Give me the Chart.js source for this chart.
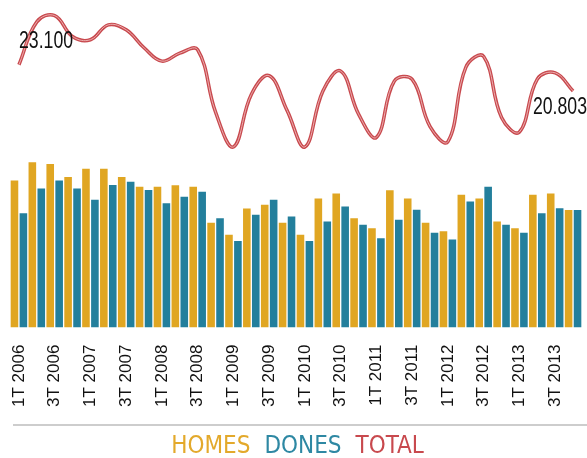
<!DOCTYPE html>
<html>
<head>
<meta charset="utf-8">
<script src="https://cdn.jsdelivr.net/npm/chart.js@4.4.0/dist/chart.umd.min.js"></script>
<style>
  body { margin: 0; background: #fff; }
  canvas { display: block; }
</style>
</head>
<body>
<canvas id="atur-chart" width="587" height="458"></canvas>
<script>
const trimestres = [
  '1T 2006', '2T 2006', '3T 2006', '4T 2006',
  '1T 2007', '2T 2007', '3T 2007', '4T 2007',
  '1T 2008', '2T 2008', '3T 2008', '4T 2008',
  '1T 2009', '2T 2009', '3T 2009', '4T 2009',
  '1T 2010', '2T 2010', '3T 2010', '4T 2010',
  '1T 2011', '2T 2011', '3T 2011', '4T 2011',
  '1T 2012', '2T 2012', '3T 2012', '4T 2012',
  '1T 2013', '2T 2013', '3T 2013', '4T 2013',
];

const homes = [
  12980, 14590, 14440, 13300, 14010, 14010, 13300, 12430,
  12430, 12570, 12430, 9270, 8220, 10520, 10850, 9270,
  8220, 11400, 11840, 9670, 8800, 12130, 11400, 9270,
  8530, 11730, 11400, 9380, 8800, 11730, 11840, 10400,
];

const dones = [
  10120, 12280, 12980, 12280, 11290, 12600, 12870, 12160,
  10990, 11550, 11990, 9670, 7660, 9970, 11290, 9820,
  7660, 9380, 10700, 9090, 7920, 9530, 10410, 8390,
  7810, 11140, 12430, 9090, 8390, 10110, 10550, 10403,
];

const total = [
  23100, 26870, 27420, 25580, 25300, 26610, 26170, 24590,
  23420, 24120, 24420, 18940, 15880, 20490, 22140, 19090,
  15880, 20780, 22540, 18760, 16720, 21660, 21810, 17660,
  16340, 22870, 23830, 18470, 17190, 21840, 22390, 20803,
];

const colors = {
  homes: '#e0a622',
  dones: '#237f9c',
  total: '#c8494e',
  homesText: '#e3a92b',
  donesText: '#2e88a3',
};

const fmt = (v) => v.toLocaleString('de-DE');

// narrow-looking number: regular sans squeezed horizontally
function narrowText(ctx, text, x, y, align) {
  const sx = 0.77;
  ctx.save();
  ctx.translate(x, y);
  ctx.scale(sx, 1);
  ctx.textAlign = align;
  ctx.fillText(text, 0, 0);
  ctx.restore();
}

// TOTAL line: thin light stroke over the red one, plus first/last values
Chart.register({
  id: 'total_extras',
  afterDatasetsDraw: (chart) => {
    const ctx = chart.ctx;
    const meta = chart.getDatasetMeta(2);
    if (!meta || !meta.dataset) return;

    ctx.save();
    ctx.beginPath();
    meta.dataset.path(ctx);
    ctx.strokeStyle = 'rgba(240, 185, 185, 0.9)';
    ctx.lineWidth = 1;
    ctx.lineJoin = 'round';
    ctx.stroke();
    ctx.restore();

    const pts = meta.data;
    const first = pts[0];
    const last = pts[pts.length - 1];
    ctx.save();
    ctx.fillStyle = '#111';
    ctx.font = '23px "Liberation Sans", Arial, sans-serif';
    ctx.textBaseline = 'alphabetic';
    narrowText(ctx, fmt(total[0]), first.x, first.y - 17, 'left');
    narrowText(ctx, fmt(total[total.length - 1]), last.x + 14, last.y + 23, 'right');
    ctx.restore();
  },
  afterDraw: (chart) => {
    // separator above the legend
    const ctx = chart.ctx;
    const y = chart.legend.top + 1;
    ctx.save();
    ctx.strokeStyle = '#bdbdbd';
    ctx.lineWidth = 1.5;
    ctx.beginPath();
    ctx.moveTo(13, y);
    ctx.lineTo(chart.width, y);
    ctx.stroke();
    ctx.restore();
  }
});

const config = {
  type: 'bar',
  data: {
    labels: trimestres,
    datasets: [
      {
        label: 'HOMES',
        data: homes,
        backgroundColor: colors.homes,
        borderColor: 'rgba(255, 255, 255, 0.3)',
        borderWidth: 1,
        barPercentage: 1,
        categoryPercentage: 1,
        legendColor: colors.homesText,
      },
      {
        label: 'DONES',
        data: dones,
        backgroundColor: colors.dones,
        borderColor: 'rgba(255, 255, 255, 0.3)',
        borderWidth: 1,
        barPercentage: 1,
        categoryPercentage: 1,
        legendColor: colors.donesText,
      },
      {
        type: 'line',
        label: 'TOTAL',
        data: total,
        borderColor: colors.total,
        borderWidth: 3.5,
        tension: 0.4,
        pointRadius: 0,
        clip: false,
        legendColor: colors.total,
      },
    ]
  },
  options: {
    responsive: false,
    animation: false,
    layout: {
      padding: { left: 10, right: 5, top: 9, bottom: -11 }
    },
    scales: {
      x: {
        grid: { display: false, drawTicks: false },
        border: { display: false },
        afterFit: (scale) => {
          scale.paddingLeft = 0;
          scale.paddingRight = 0;
        },
        ticks: {
          autoSkip: false,
          minRotation: 90,
          maxRotation: 90,
          padding: 17,
          color: '#111',
          font: { family: '"Liberation Sans", Arial, sans-serif', size: 17 },
          callback: function (value, index) {
            return index % 2 === 0 ? this.getLabelForValue(value) : '';
          }
        }
      },
      y: {
        display: false,
        min: 0,
        max: 28000,
      }
    },
    plugins: {
      tooltip: { enabled: false },
      legend: {
        position: 'bottom',
        labels: {
          // no colour box, just coloured words close together
          boxWidth: -9,
          boxHeight: 0,
          padding: 11,
          font: { family: '"DejaVu Sans Condensed", sans-serif', size: 24 },
          generateLabels: (chart) => chart.data.datasets.map((ds, i) => ({
            text: ds.label,
            fontColor: ds.legendColor,
            fillStyle: 'transparent',
            strokeStyle: 'transparent',
            lineWidth: 0,
            hidden: false,
            datasetIndex: i,
          }))
        }
      }
    }
  }
};

let aturChart = new Chart(document.getElementById('atur-chart'), config);
</script>
</body>
</html>
